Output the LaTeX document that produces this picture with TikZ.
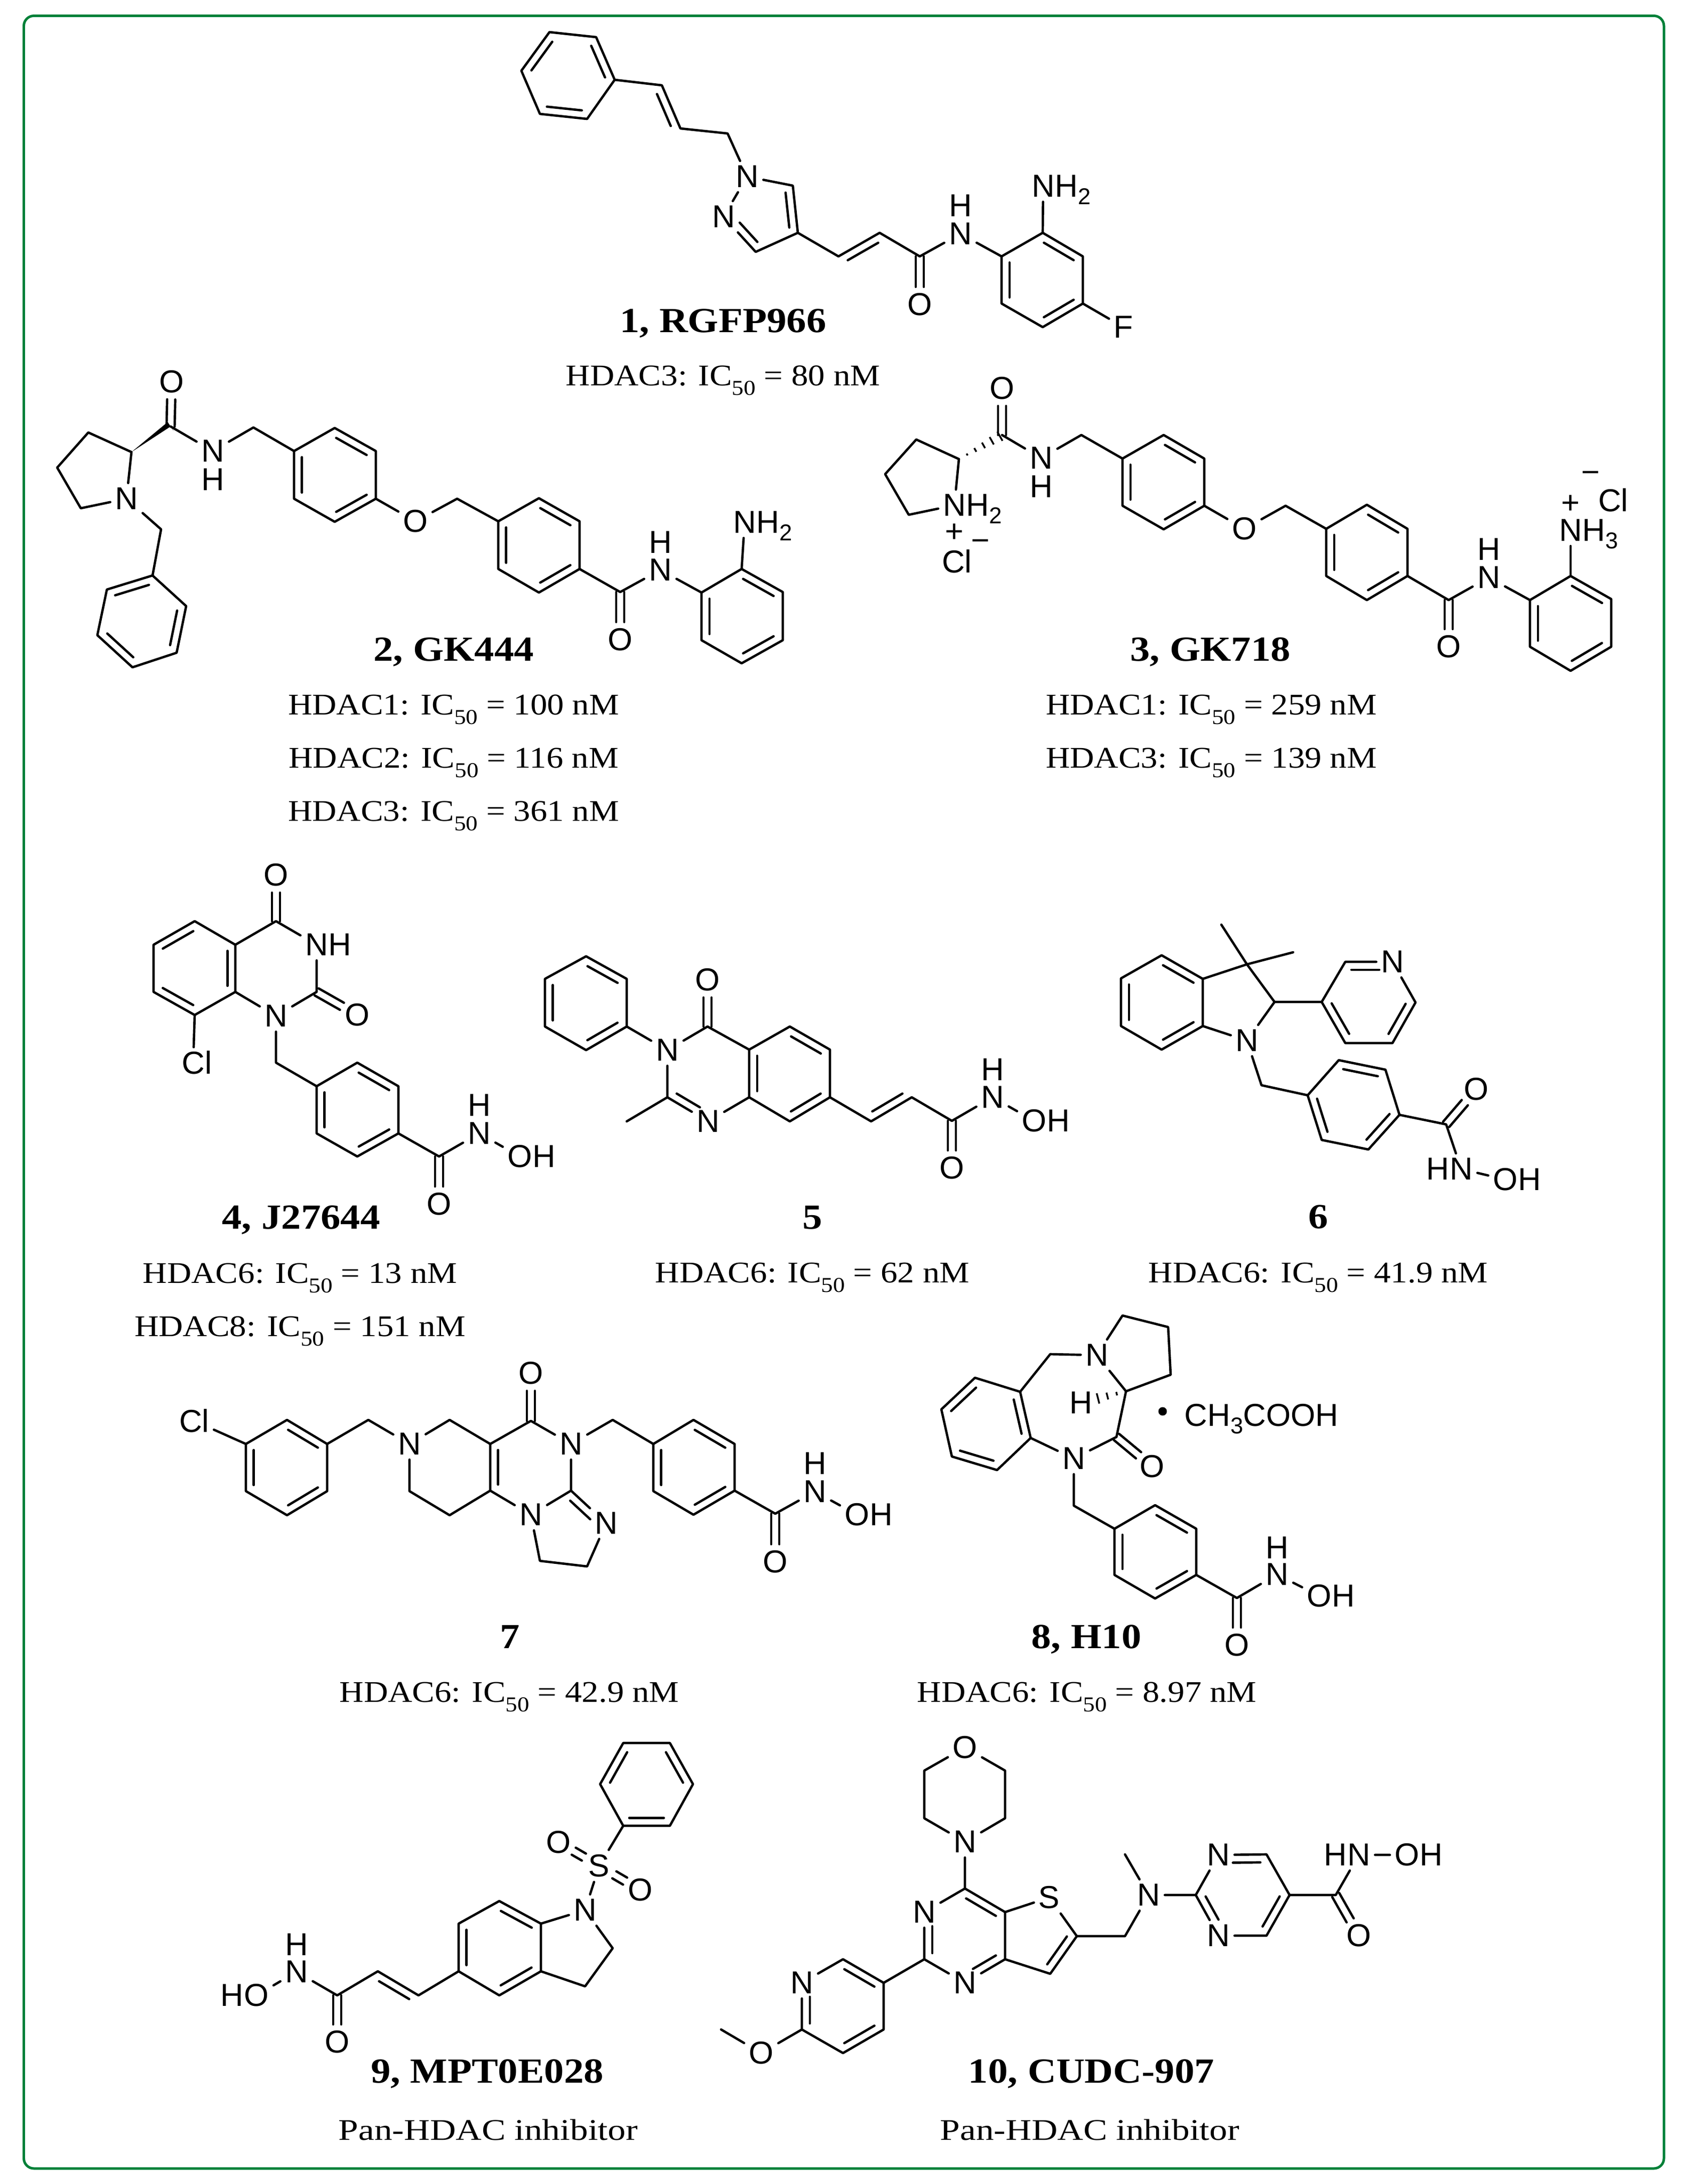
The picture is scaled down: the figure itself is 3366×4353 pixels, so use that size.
\documentclass[tikz,border=0pt]{standalone}
\usepackage{fontspec}
\usetikzlibrary{calc}
\setmainfont[FakeStretch=1.12]{Liberation Serif}
\newfontfamily\atomfamily{Liberation Sans}
\definecolor{framegreen}{RGB}{0,128,56}
\newcommand{\atomfont}{\fontsize{18}{20}\selectfont\atomfamily}
\tikzset{
  bond/.style={line width=1.33pt, line join=round, line cap=round},
  atom/.style={font=\atomfont, inner sep=2.5pt},
  charge/.style={font=\atomfont, inner sep=0pt},
  tail/.style={font=\atomfont, anchor=base west, inner sep=0pt, outer sep=0pt, xshift=-2.5pt},
  head/.style={font=\atomfont, anchor=base east, inner sep=0pt, outer sep=0pt, xshift=2.5pt},
  title/.style={font=\fontsize{20}{24}\selectfont\bfseries, anchor=base, inner sep=0pt},
  value/.style={font=\fontsize{17}{20}\selectfont, anchor=base, inner sep=0pt},
}
% carbon positions
\newcommand{\pts}[1]{\foreach \n/\x/\y in {#1}{\coordinate (\n) at (\x,\y);}}
% inner line of a double bond, on the right of the way from #1 to #2
\newcommand{\dblx}[4]{\draw[bond] ($(#1)!#3!(#2)!4.5pt!-90:(#2)$) -- ($(#1)!#4!(#2)!4.5pt!-90:(#2)$);}
\newcommand{\dbl}[2]{\dblx{#1}{#2}{.13}{.87}}
% two equal lines, towards a label
\newcommand{\dbo}[3][]{%
  \draw[bond,shorten >=10pt,#1] ($(#2)!2.3pt!90:(#3)$) -- ($(#3)!2.3pt!-90:(#2)$);
  \draw[bond,shorten >=10pt,#1] ($(#2)!2.3pt!-90:(#3)$) -- ($(#3)!2.3pt!90:(#2)$);}
% benzene ring from points #11 to #16, listed clockwise
\newcommand{\kring}[1]{%
  \draw[bond] (#11) -- (#12) -- (#13) -- (#14) -- (#15) -- (#16) -- cycle;
  \dbl{#12}{#13} \dbl{#14}{#15} \dbl{#16}{#11}}
\newcommand{\wedgeb}[2]{\fill ($(#2)!.3pt!180:(#1)$) -- ($(#2)!3pt!90:(#1)$) -- ($(#2)!3pt!-90:(#1)$) -- (#1) -- cycle;}
\newcommand{\hashb}[4]{\foreach \k in {1,...,#4}{%
  \draw[line width=1pt] ($(#1)!\k*#3/#4!(#2)!\k*3/#4*1pt!90:(#2)$) -- ($(#1)!\k*#3/#4!(#2)!\k*3/#4*1pt!-90:(#2)$);}}
\newcommand{\atomsub}[1]{\raisebox{-4.3pt}{\fontsize{13}{15}\selectfont #1}}
\newcommand{\ic}[2]{#1: IC\raisebox{-5.5pt}{\fontsize{12}{14}\selectfont 50} = #2 nM}
\begin{document}
\begin{tikzpicture}[x=0.01cm, y=-0.01cm]
  \useasboundingbox (0,0) rectangle (3366,4353);
  \draw[framegreen, line width=1.42pt, rounded corners=5.7pt] (47.5,31.5) rectangle (3316,4322);

  % 1, RGFP966
  \pts{Ap1/1095/64, Ap2/1188/74, Ap3/1225/159, Ap4/1170/237, Ap5/1076/227, Ap6/1039/141,
    Ac1/1319/170, Ac2/1356/256, Ac3/1450/266, Ac5/1580/370, Ac4/1590/464, Ac6/1506/502,
    Ac7/1671/511, Ac8/1753/464, Ac9/1833/511,
    Ar1/1996/511, Ar2/2078/464, Ar3/2158/511, Ar4/2158/605, Ar5/2078/652, Ar6/1996/605}
  \node[atom] (An1) at (1489,352) {N};
  \node[atom] (An2) at (1442,432) {N};
  \node[atom] (Ao1) at (1833,607) {O};
  \node[atom] (An3) at (1914,466) {N};
  \node[atom] (Ah3) at (1914,410) {H};
  \node[atom] (An4) at (2079,371) {N};
  \node[tail] (Ah4) at (An4.base east) {H\atomsub{2}};
  \node[atom] (Af1) at (2239,652) {F};
  \kring{Ap}
  \draw[bond] (Ap3) -- (Ac1) -- (Ac2) -- (Ac3) -- (An1) -- (Ac5) -- (Ac4) -- (Ac6) -- (An2) -- (An1);
  \dbl{Ac1}{Ac2} \dbl{Ac5}{Ac4} \dblx{Ac6}{An2}{.13}{.68}
  \draw[bond] (Ac4) -- (Ac7) -- (Ac8) -- (Ac9) -- (An3) -- (Ar1);
  \dbl{Ac7}{Ac8} \dbo{Ac9}{Ao1}
  \kring{Ar}
  \draw[bond] (Ar2) -- (An4);
  \draw[bond] (Ar4) -- (Af1);
  \node[title] (At1) at (1441,662) {1, RGFP966};
  \node[value] (Av1) at (1441,768) {\ic{HDAC3}{80}};

  % 2, GK444
  \pts{Bc1/262/901, Bc2/176/862, Bc3/114/932, Bc4/161/1013, Bc5/340/850, Bc6/505/852,
    Ba1/586/899, Ba2/667/853, Ba3/749/899, Ba4/749/994, Ba5/667/1040, Ba6/586/994,
    Bc7/911/994, Bb1/993/1039, Bb2/1074/993, Bb3/1155/1039, Bb4/1155/1134, Bb5/1074/1181, Bb6/993/1134,
    Bc8/1236/1180, Bd1/1398/1181, Bd2/1478/1134, Bd3/1560/1180, Bd4/1560/1276, Bd5/1478/1322, Bd6/1398/1276,
    Bc9/321/1055, Bp1/194/1266, Bp2/213/1175, Bp3/304/1147, Bp4/371/1208, Bp5/352/1301, Bp6/264/1330}
  \node[atom] (Bn1) at (252,994) {N};
  \node[atom] (Bo1) at (342,761) {O};
  \node[atom] (Bn2) at (424,899) {N};
  \node[atom] (Bh2) at (424,956) {H};
  \node[atom] (Bo2) at (828,1039) {O};
  \node[atom] (Bo3) at (1236,1275) {O};
  \node[atom] (Bn3) at (1316,1136) {N};
  \node[atom] (Bh3) at (1316,1081) {H};
  \node[atom] (Bn4) at (1484,1041) {N};
  \node[tail] (Bh4) at (Bn4.base east) {H\atomsub{2}};
  \draw[bond] (Bc1) -- (Bc2) -- (Bc3) -- (Bc4) -- (Bn1) -- (Bc1);
  \wedgeb{Bc1}{Bc5}
  \dbo{Bc5}{Bo1}
  \draw[bond] (Bc5) -- (Bn2) -- (Bc6) -- (Ba1);
  \kring{Ba}
  \draw[bond] (Ba4) -- (Bo2) -- (Bc7) -- (Bb1);
  \kring{Bb}
  \draw[bond] (Bb4) -- (Bc8) -- (Bn3) -- (Bd1);
  \dbo{Bc8}{Bo3}
  \kring{Bd}
  \draw[bond] (Bd2) -- (Bn4);
  \draw[bond] (Bn1) -- (Bc9) -- (Bp3);
  \kring{Bp}
  \node[title] (Bt1) at (904,1317) {2, GK444};
  \node[value] (Bv1) at (904,1424) {\ic{HDAC1}{100}};
  \node[value] (Bv2) at (904,1530) {\ic{HDAC2}{116}};
  \node[value] (Bv3) at (904,1636) {\ic{HDAC3}{361}};

  % 3, GK718
  \pts{Cc1/1911/915, Cc2/1826/876, Cc3/1764/945, Cc4/1811/1026, Cc5/1997/867, Cc6/2155/867,
    Ca1/2237/914, Ca2/2319/867, Ca3/2400/914, Ca4/2400/1008, Ca5/2319/1055, Ca6/2237/1008,
    Cc7/2562/1008, Cb1/2643/1054, Cb2/2724/1006, Cb3/2805/1054, Cb4/2805/1148, Cb5/2724/1196, Cb6/2643/1148,
    Cc8/2887/1196, Cd1/3049/1196, Cd2/3130/1148, Cd3/3211/1194, Cd4/3211/1289, Cd5/3130/1337, Cd6/3049/1289}
  \node[atom] (Cn1) at (1902,1007) {N};
  \node[tail] (Ch1) at (Cn1.base east) {H\atomsub{2}};
  \node[charge] (Cq1) at (1902,1062) {+};
  \node[atom] (Ccl1) at (1907,1119) {Cl};
  \node[charge] (Cm1) at (1954,1087) {−};
  \node[atom] (Co1) at (1997,774) {O};
  \node[atom] (Cn2) at (2075,913) {N};
  \node[atom] (Ch2) at (2075,970) {H};
  \node[atom] (Co2) at (2480,1054) {O};
  \node[atom] (Co3) at (2887,1289) {O};
  \node[atom] (Cn3) at (2967,1151) {N};
  \node[atom] (Ch3) at (2967,1095) {H};
  \node[atom] (Cn4) at (3130,1057) {N};
  \node[tail] (Ch4) at (Cn4.base east) {H\atomsub{3}};
  \node[charge] (Cq2) at (3130,1005) {+};
  \node[atom] (Ccl2) at (3215,997) {Cl};
  \node[charge] (Cm2) at (3170,951) {−};
  \draw[bond] (Cc1) -- (Cc2) -- (Cc3) -- (Cc4) -- (Cn1) -- (Cc1);
  \hashb{Cc1}{Cc5}{.95}{5}
  \dbo{Cc5}{Co1}
  \draw[bond] (Cc5) -- (Cn2) -- (Cc6) -- (Ca1);
  \kring{Ca}
  \draw[bond] (Ca4) -- (Co2) -- (Cc7) -- (Cb1);
  \kring{Cb}
  \draw[bond] (Cb4) -- (Cc8) -- (Cn3) -- (Cd1);
  \dbo{Cc8}{Co3}
  \kring{Cd}
  \draw[bond] (Cd2) -- (Cn4);
  \node[title] (Ct1) at (2412,1317) {3, GK718};
  \node[value] (Cv1) at (2414,1424) {\ic{HDAC1}{259}};
  \node[value] (Cv2) at (2414,1530) {\ic{HDAC3}{139}};

  % 4, J27644
  \pts{Dq1/306/1977, Dq2/306/1883, Dq3/388/1836, Dq4/469/1883, Dq5/469/1977, Dq6/388/2023,
    Dc1/550/1836, Dc2/631/1977, Dc3/550/2118,
    Dr1/631/2165, Dr2/712/2118, Dr3/794/2165, Dr4/794/2259, Dr5/712/2305, Dr6/631/2259, Dc4/875/2305}
  \node[atom] (Do1) at (550,1744) {O};
  \node[atom] (Dn1) at (631,1883) {N};
  \node[tail] (Dh1) at (Dn1.base east) {H};
  \node[atom] (Do2) at (712,2023) {O};
  \node[atom] (Dn2) at (550,2025) {N};
  \node[atom] (Dcl) at (385,2119) {C};
  \node[tail] (Dl) at (Dcl.base east) {l};
  \node[atom] (Do3) at (875,2400) {O};
  \node[atom] (Dn3) at (955,2259) {N};
  \node[atom] (Dh3) at (955,2203) {H};
  \node[atom] (Do4) at (1036,2305) {O};
  \node[tail] (Dh4) at (Do4.base east) {H};
  \kring{Dq}
  \draw[bond] (Dq4) -- (Dc1) -- (Dn1) -- (Dc2) -- (Dn2) -- (Dq5);
  \draw[bond] (Dq6) -- (Dcl);
  \dbo{Dc1}{Do1} \dbo{Dc2}{Do2}
  \draw[bond] (Dn2) -- (Dc3) -- (Dr1);
  \kring{Dr}
  \draw[bond] (Dr4) -- (Dc4) -- (Dn3) -- (Do4);
  \dbo{Dc4}{Do3}
  \node[title] (Dt1) at (600,2449) {4, J27644};
  \node[value] (Dv1) at (598,2557) {\ic{HDAC6}{13}};
  \node[value] (Dv2) at (598,2663) {\ic{HDAC8}{151}};

  % 5
  \pts{Ep1/1086/1951, Ep2/1168/1906, Ep3/1249/1951, Ep4/1249/2046, Ep5/1168/2093, Ep6/1086/2046,
    Eq1/1493/2092, Eq2/1574/2046, Eq3/1654/2092, Eq4/1654/2187, Eq5/1574/2235, Eq6/1493/2187,
    Ec1/1410/2046, Ec2/1330/2187, Ec3/1249/2235, Ec4/1736/2235, Ec5/1817/2187, Ec6/1897/2234}
  \node[atom] (En1) at (1330,2093) {N};
  \node[atom] (Eo1) at (1410,1953) {O};
  \node[atom] (En2) at (1411,2235) {N};
  \node[atom] (Eo2) at (1897,2328) {O};
  \node[atom] (En3) at (1978,2187) {N};
  \node[atom] (Eh3) at (1978,2132) {H};
  \node[atom] (Eo3) at (2061,2234) {O};
  \node[tail] (Eh4) at (Eo3.base east) {H};
  \kring{Ep}
  \kring{Eq}
  \draw[bond] (Ep4) -- (En1) -- (Ec1) -- (Eq1);
  \draw[bond] (En1) -- (Ec2) -- (En2) -- (Eq6);
  \draw[bond] (Ec2) -- (Ec3);
  \dblx{En2}{Ec2}{.3}{.87}
  \dbo{Ec1}{Eo1}
  \draw[bond] (Eq4) -- (Ec4) -- (Ec5) -- (Ec6) -- (En3) -- (Eo3);
  \dbl{Ec5}{Ec4} \dbo{Ec6}{Eo2}
  \node[title] (Et1) at (1619,2449) {5};
  \node[value] (Ev1) at (1619,2556) {\ic{HDAC6}{62}};

  % 6
  \pts{Fa1/2234/1950, Fa2/2315/1904, Fa3/2397/1951, Fa4/2397/2045, Fa5/2315/2092, Fa6/2234/2045,
    Fc1/2485/1922, Fc2/2434/1843, Fc3/2577/1898, Fc4/2540/1997,
    Fp1/2634/1997, Fp2/2681/1917, Fp4/2821/1998, Fp5/2775/2079, Fp6/2681/2079,
    Fc5/2514/2163, Fr1/2606/2183, Fr2/2668/2113, Fr3/2761/2132, Fr4/2789/2222, Fr5/2727/2291, Fr6/2634/2272,
    Fc6/2882/2241}
  \node[atom] (Fn1) at (2485,2074) {N};
  \node[atom] (Fn2) at (2775,1917) {N};
  \node[atom] (Fo1) at (2942,2171) {O};
  \node[atom] (Fn3) at (2912,2330) {N};
  \node[head] (Fh3) at (Fn3.base west) {H};
  \node[atom] (Fo2) at (3000,2351) {O};
  \node[tail] (Fh4) at (Fo2.base east) {H};
  \kring{Fa}
  \draw[bond] (Fa3) -- (Fc1) -- (Fc4) -- (Fn1) -- (Fa4);
  \draw[bond] (Fc1) -- (Fc2);
  \draw[bond] (Fc1) -- (Fc3);
  \draw[bond] (Fc4) -- (Fp1) -- (Fp2) -- (Fn2) -- (Fp4) -- (Fp5) -- (Fp6) -- (Fp1);
  \dblx{Fp2}{Fn2}{.13}{.72} \dbl{Fp4}{Fp5} \dbl{Fp6}{Fp1}
  \draw[bond] (Fn1) -- (Fc5) -- (Fr1);
  \kring{Fr}
  \draw[bond] (Fr4) -- (Fc6) -- (Fn3) -- (Fo2);
  \dbo{Fc6}{Fo1}
  \node[title] (Ft1) at (2627,2448) {6};
  \node[value] (Fv1) at (2627,2556) {\ic{HDAC6}{41.9}};

  % 7
  \pts{Ga1/490/2878, Ga2/572/2830, Ga3/652/2878, Ga4/652/2972, Ga5/572/3020, Ga6/490/2972,
    Gc1/734/2830, Gc2/896/2830, Gc3/977/2878, Gc4/977/2971, Gc5/896/3020, Gc6/816/2972,
    Gc7/1058/2832, Gc8/1221/2830, Gc9/1138/2971, Gc10/1076/3111, Gc11/1170/3122,
    Gb1/1302/2878, Gb2/1382/2830, Gb3/1464/2878, Gb4/1464/2971, Gb5/1382/3019, Gb6/1302/2972,
    Gc12/1545/3017}
  \node[atom] (Gcl) at (387,2832) {Cl};
  \node[atom] (Gn1) at (816,2878) {N};
  \node[atom] (Go1) at (1058,2737) {O};
  \node[atom] (Gn2) at (1138,2878) {N};
  \node[atom] (Gn3) at (1058,3019) {N};
  \node[atom] (Gn4) at (1208,3036) {N};
  \node[atom] (Go2) at (1545,3113) {O};
  \node[atom] (Gn5) at (1624,2973) {N};
  \node[atom] (Gh5) at (1624,2917) {H};
  \node[atom] (Go3) at (1708,3019) {O};
  \node[tail] (Gh6) at (Go3.base east) {H};
  \kring{Ga}
  \draw[bond] (Ga1) -- (Gcl);
  \draw[bond] (Ga3) -- (Gc1) -- (Gn1) -- (Gc2) -- (Gc3) -- (Gc4) -- (Gc5) -- (Gc6) -- (Gn1);
  \dbl{Gc4}{Gc3}
  \draw[bond] (Gc3) -- (Gc7) -- (Gn2) -- (Gc9) -- (Gn3) -- (Gc4);
  \dbo{Gc7}{Go1}
  \draw[bond] (Gc9) -- (Gn4) -- (Gc11) -- (Gc10) -- (Gn3);
  \dblx{Gc9}{Gn4}{.13}{.7}
  \draw[bond] (Gn2) -- (Gc8) -- (Gb1);
  \kring{Gb}
  \draw[bond] (Gb4) -- (Gc12) -- (Gn5) -- (Go3);
  \dbo{Gc12}{Go2}
  \node[title] (Gt1) at (1016,3285) {7};
  \node[value] (Gv1) at (1015,3392) {\ic{HDAC6}{42.9}};

  % 8, H10
  \pts{Hq1/1897/2903, Hq2/1876/2809, Hq3/1943/2746, Hq4/2033/2774, Hq5/2054/2866, Hq6/1987/2930,
    Hc1/2093/2699, Hc2/2237/2622, Hc3/2328/2645, Hc4/2333/2740, Hc5/2244/2773, Hc6/2225/2864, Hc7/2140/3001,
    Hr1/2221/3047, Hr2/2302/3000, Hr3/2384/3047, Hr4/2384/3139, Hr5/2302/3186, Hr6/2221/3139, Hc8/2465/3185}
  \node[atom] (Hn1) at (2186,2701) {N};
  \node[atom] (Hh1) at (2154,2796) {H};
  \node[atom] (Ho1) at (2296,2923) {O};
  \node[atom] (Hn2) at (2140,2907) {N};
  \node[atom] (Ho2) at (2465,3279) {O};
  \node[atom] (Hn3) at (2545,3138) {N};
  \node[atom] (Hh3) at (2545,3085) {H};
  \node[atom] (Ho3) at (2629,3181) {O};
  \node[tail] (Hh4) at (Ho3.base east) {H};
  \node[circle, fill, inner sep=1.7pt] (Hdot) at (2317,2813) {};
  \node[font=\atomfont, anchor=base west, inner sep=0pt] (Hacid) at (2360,2842) {CH\atomsub{3}COOH};
  \kring{Hq}
  \draw[bond] (Hq4) -- (Hc1) -- (Hn1) -- (Hc2) -- (Hc3) -- (Hc4) -- (Hc5) -- (Hn1);
  \draw[bond] (Hc5) -- (Hc6) -- (Hn2) -- (Hq5);
  \hashb{Hc5}{Hh1}{.62}{3}
  \dbo{Hc6}{Ho1}
  \draw[bond] (Hn2) -- (Hc7) -- (Hr1);
  \kring{Hr}
  \draw[bond] (Hr4) -- (Hc8) -- (Hn3) -- (Ho3);
  \dbo{Hc8}{Ho2}
  \node[title] (Ht1) at (2165,3285) {8, H10};
  \node[value] (Hv1) at (2166,3392) {\ic{HDAC6}{8.97}};

  % 9, MPT0E028
  \pts{Ip1/1242/3639, Ip2/1196/3556, Ip3/1242/3474, Ip4/1335/3474, Ip5/1381/3556, Ip6/1335/3639,
    Iq1/914/3834, Iq2/995/3789, Iq3/1078/3834, Iq4/1078/3929, Iq5/995/3977, Iq6/914/3929,
    Ic1/1221/3883, Ic2/1166/3959, Ic3/834/3977, Ic4/753/3929, Ic5/672/3977}
  \node[atom] (Is1) at (1194,3719) {S};
  \node[atom] (Io1) at (1113,3672) {O};
  \node[atom] (Io2) at (1276,3767) {O};
  \node[atom] (In1) at (1166,3807) {N};
  \node[atom] (Io3) at (672,4070) {O};
  \node[atom] (In2) at (591,3930) {N};
  \node[atom] (Ih2) at (591,3876) {H};
  \node[atom] (Io4) at (511,3977) {O};
  \node[head] (Ih4) at (Io4.base west) {H};
  \kring{Ip}
  \draw[bond] (Ip1) -- (Is1) -- (In1) -- (Ic1) -- (Ic2) -- (Iq4);
  \draw[bond] (Iq3) -- (In1);
  \dbo[shorten <=10pt]{Is1}{Io1} \dbo[shorten <=10pt]{Is1}{Io2}
  \kring{Iq}
  \draw[bond] (Iq6) -- (Ic3) -- (Ic4) -- (Ic5) -- (In2) -- (Io4);
  \dbl{Ic4}{Ic3} \dbo{Ic5}{Io3}
  \node[title] (It1) at (971,4151) {9, MPT0E028};
  \node[value] (Iv1) at (973,4265) {\scalebox{1.065}[1]{Pan-HDAC inhibitor}};

  % 10, CUDC-907
  \pts{Jm1/2003/3529, Jm2/2003/3624, Jm5/1842/3624, Jm6/1842/3529,
    Jc1/1923/3764, Jc2/2003/3811, Jc3/2003/3905, Jc4/1842/3905, Jc5/2146/3859, Jc6/2093/3934,
    Jc7/2242/3859, Jc8/2242/3696, Jq1/2383/3777, Jq3/2524/3696, Jq4/2570/3777, Jq5/2524/3858, Jc9/2662/3777,
    Jy1/1761/3952, Jy2/1680/3905, Jy4/1598/4045, Jy5/1680/4092, Jy6/1761/4045, Jc10/1437/4045}
  \node[atom] (Jo1) at (1923,3483) {O};
  \node[atom] (Jn1) at (1923,3671) {N};
  \node[atom] (Jn2) at (1842,3811) {N};
  \node[atom] (Jn3) at (1923,3952) {N};
  \node[atom] (Js1) at (2091,3782) {S};
  \node[atom] (Jn4) at (2289,3777) {N};
  \node[atom] (Jn5) at (2428,3697) {N};
  \node[atom] (Jn6) at (2428,3858) {N};
  \node[atom] (Jo2) at (2708,3858) {O};
  \node[atom] (Jn7) at (2708,3697) {N};
  \node[head] (Jh7) at (Jn7.base west) {H};
  \node[atom] (Jo3) at (2804,3697) {O};
  \node[tail] (Jh8) at (Jo3.base east) {H};
  \node[atom] (Jn8) at (1598,3952) {N};
  \node[atom] (Jo4) at (1517,4092) {O};
  \draw[bond] (Jo1) -- (Jm1) -- (Jm2) -- (Jn1) -- (Jm5) -- (Jm6) -- (Jo1);
  \draw[bond] (Jn1) -- (Jc1) -- (Jc2) -- (Jc3) -- (Jn3) -- (Jc4) -- (Jn2) -- (Jc1);
  \dbl{Jc1}{Jc2} \dblx{Jc3}{Jn3}{.13}{.7} \dblx{Jc4}{Jn2}{.13}{.7}
  \draw[bond] (Jc2) -- (Js1) -- (Jc5) -- (Jc6) -- (Jc3);
  \dbl{Jc5}{Jc6}
  \draw[bond] (Jc5) -- (Jc7) -- (Jn4) -- (Jc8);
  \draw[bond] (Jn4) -- (Jq1) -- (Jn5) -- (Jq3) -- (Jq4) -- (Jq5) -- (Jn6) -- (Jq1);
  \dblx{Jn5}{Jq3}{.3}{.87} \dbl{Jq4}{Jq5} \dblx{Jn6}{Jq1}{.3}{.87}
  \draw[bond] (Jq4) -- (Jc9) -- (Jn7) -- (Jo3);
  \dbo{Jc9}{Jo2}
  \draw[bond] (Jc4) -- (Jy1) -- (Jy2) -- (Jn8) -- (Jy4) -- (Jy5) -- (Jy6) -- (Jy1);
  \dbl{Jy2}{Jy1} \dbl{Jy6}{Jy5} \dblx{Jy4}{Jn8}{.13}{.7}
  \draw[bond] (Jy4) -- (Jo4) -- (Jc10);
  \node[title] (Jt1) at (2175,4151) {10, CUDC-907};
  \node[value] (Jv1) at (2172,4265) {\scalebox{1.065}[1]{Pan-HDAC inhibitor}};
\end{tikzpicture}
\end{document}
